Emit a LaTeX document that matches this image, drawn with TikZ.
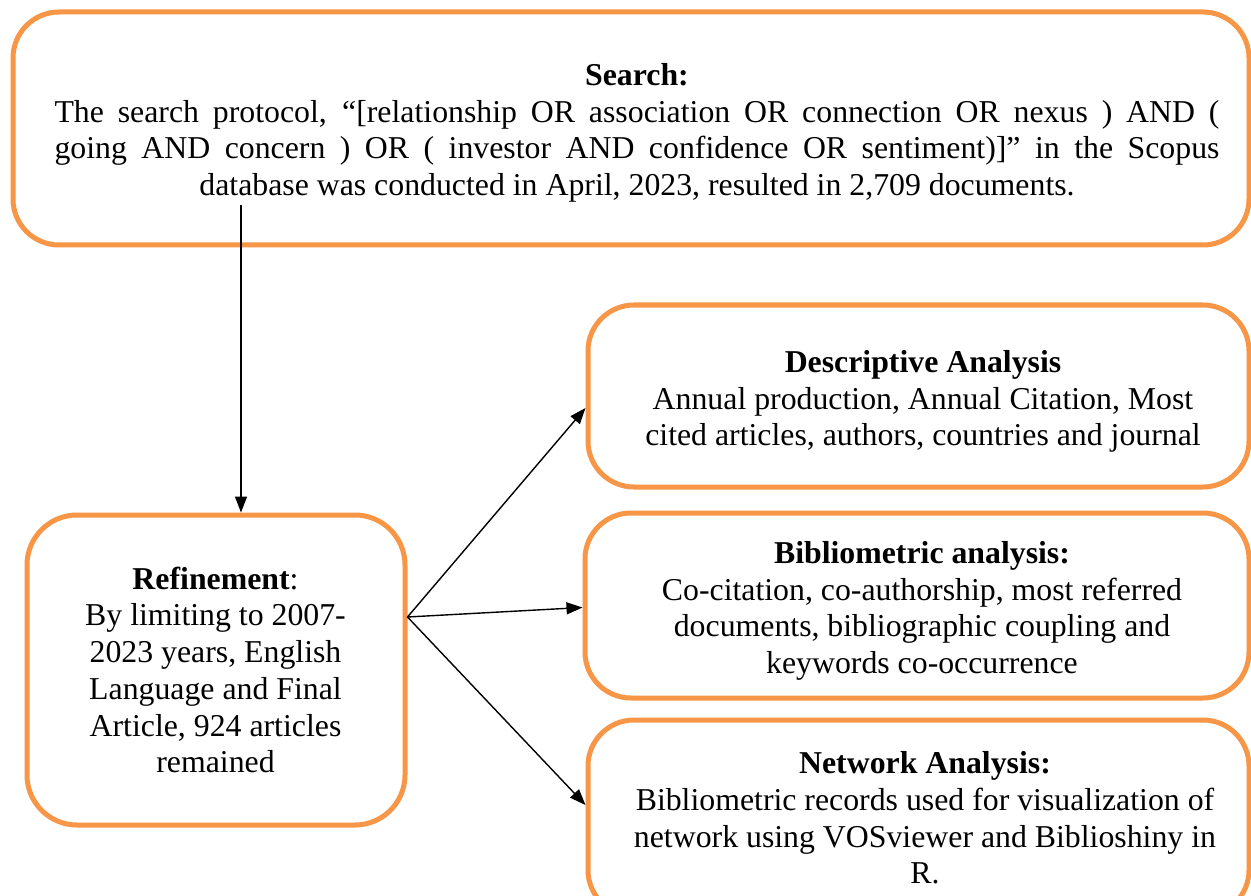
\documentclass[tikz,border=0pt]{standalone}
\usepackage{fontspec}
\setmainfont{Liberation Serif}
\usetikzlibrary{arrows.meta}
\definecolor{boxorange}{HTML}{F79646}
\tikzset{
  box/.style={draw=boxorange, line width=5pt, rounded corners=46pt, fill=white, inner sep=0pt},
  txt/.style={align=center, inner sep=0pt, font=\fontsize{31.8}{36.7}\selectfont},
  arr/.style={line width=1.4pt, -{Triangle[length=16pt,width=12pt]}}
}
\begin{document}
\begin{tikzpicture}[x=1pt,y=-1pt]
\useasboundingbox (0,0) rectangle (1251,896);
\clip (0,0) rectangle (1251,896);
\fill[white] (0,0) rectangle (1251,896);

\node[box, minimum width=1236pt, minimum height=233pt] (search) at (631,128.5) {};
\node[txt] (searchT) at (637,133)
  {\textbf{Search:}\\
   \makebox[1165pt][s]{The search protocol, “[relationship OR association OR connection OR nexus ) AND (}\\
   \makebox[1165pt][s]{going AND concern ) OR ( investor AND confidence OR sentiment)]” in the Scopus}\\
   database was conducted in April, 2023, resulted in 2,709 documents.};

\node[box, rounded corners=50pt, minimum width=378pt, minimum height=310pt] (ref) at (216,670) {};
\node[txt] (refT) at (215.5,670)
  {\textbf{Refinement}:\\By limiting to 2007-\\2023 years, English\\Language and Final\\Article, 924 articles\\remained};

\node[box, minimum width=661pt, minimum height=182pt] (desc) at (918.5,396) {};
\node[txt] (descT) at (923,401.5)
  {\textbf{Descriptive Analysis}\\Annual production, Annual Citation, Most\\cited articles, authors, countries and journal};

\node[box, minimum width=664pt, minimum height=185pt] (bib) at (917,605.5) {};
\node[txt] (bibT) at (922,611)
  {\textbf{Bibliometric analysis:}\\Co-citation, co-authorship, most referred\\documents, bibliographic coupling and\\keywords co-occurrence};

\node[box, minimum width=661pt, minimum height=196pt] (net) at (918.5,818) {};
\node[txt] (netT) at (925,818)
  {\textbf{Network Analysis:}\\Bibliometric records used for visualization of\\network using VOSviewer and Biblioshiny in\\R.};

\coordinate (sStart) at (241,205);
\coordinate (rOut) at ([yshift=53pt]ref.east);

\draw[arr] (sStart) -- (sStart |- ref.north);
\draw[arr] (rOut) -- ([yshift=-12pt]desc.west);
\draw[arr] (rOut) -- ([yshift=-2pt]bib.west);
\draw[arr] (rOut) -- ([yshift=13pt]net.west);
\end{tikzpicture}
\end{document}
